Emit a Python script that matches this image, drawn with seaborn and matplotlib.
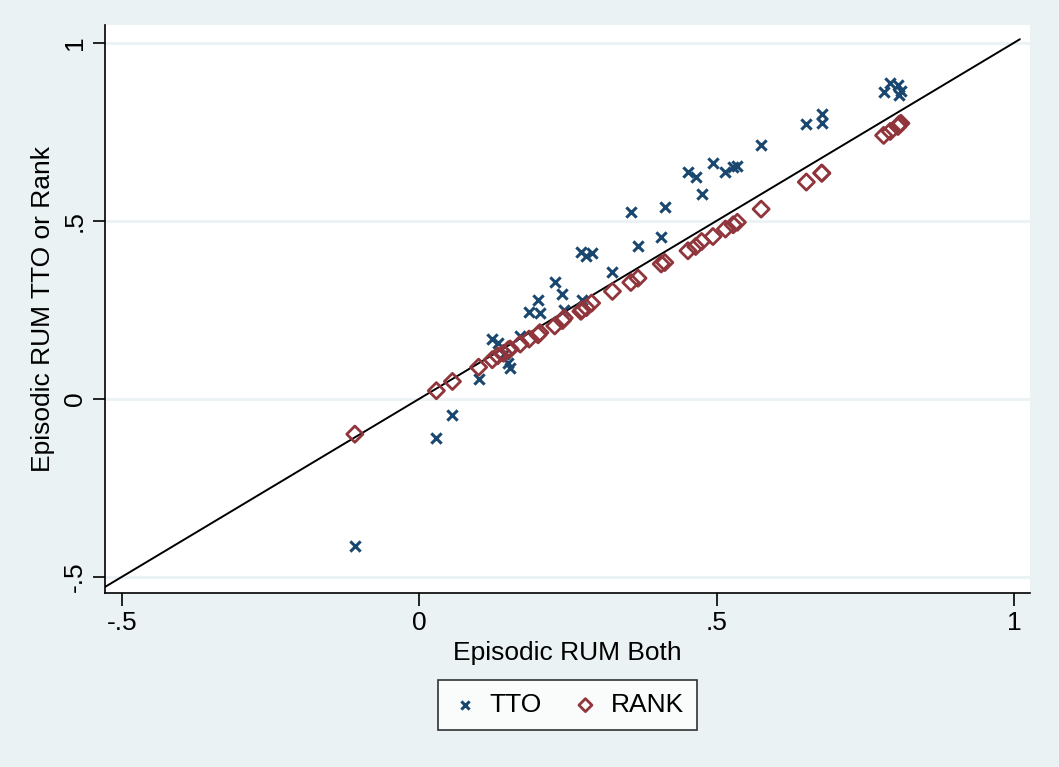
import numpy as np
import pandas as pd
import matplotlib
matplotlib.use("Agg")
import matplotlib.pyplot as plt
import seaborn as sns

# values
episodic_both = [-0.108, 0.029, 0.056, 0.100, 0.123, 0.132, 0.142, 0.150, 0.153,
                 0.170, 0.185, 0.200, 0.203, 0.228, 0.241, 0.244, 0.272, 0.274,
                 0.281, 0.290, 0.325, 0.356, 0.368, 0.407, 0.413, 0.452, 0.465,
                 0.475, 0.494, 0.515, 0.528, 0.535, 0.575, 0.651, 0.677, 0.677,
                 0.781, 0.792, 0.805, 0.807, 0.810]
tto = [-0.413, -0.109, -0.045, 0.055, 0.168, 0.158, 0.126, 0.101, 0.087,
       0.177, 0.244, 0.279, 0.240, 0.327, 0.294, 0.250, 0.413, 0.278,
       0.402, 0.411, 0.355, 0.526, 0.430, 0.454, 0.539, 0.636, 0.623,
       0.576, 0.662, 0.636, 0.651, 0.653, 0.713, 0.772, 0.800, 0.774,
       0.863, 0.888, 0.881, 0.853, 0.864]
rank = [-0.099, 0.023, 0.049, 0.089, 0.110, 0.121, 0.128, 0.138, 0.140,
        0.154, 0.168, 0.180, 0.186, 0.205, 0.220, 0.227, 0.246, 0.250,
        0.256, 0.269, 0.302, 0.327, 0.339, 0.379, 0.383, 0.416, 0.428,
        0.442, 0.456, 0.477, 0.489, 0.496, 0.533, 0.609, 0.634, 0.634,
        0.740, 0.751, 0.765, 0.771, 0.774]
ticks = [-0.5, 0, 0.5, 1]
tick_labels = ["-.5", "0", ".5", "1"]
ref_line = [-0.53, 1.01]

df = pd.DataFrame({"both": episodic_both, "tto": tto, "rank": rank})

sns.set_style("white")
plt.rcParams["font.family"] = ["Liberation Sans", "DejaVu Sans"]
plt.rcParams["text.color"] = "black"
plt.rcParams["axes.labelcolor"] = "black"
plt.rcParams["xtick.color"] = "black"
plt.rcParams["ytick.color"] = "black"

bg = "#EAF2F3"
navy = "#1A476F"
maroon = "#90353B"
fig = plt.figure(figsize=(10.59, 7.67), dpi=100, facecolor=bg)
ax = fig.add_axes([0.0992, 0.2269, 0.8734, 0.7405])
ax.set_facecolor("white")

# 45 degree reference line
ax.plot(ref_line, ref_line, color="black", lw=1.4, zorder=2)

sns.scatterplot(data=df, x="both", y="tto", marker="x", s=55, color=navy,
                linewidth=2.2, label="TTO", ax=ax, zorder=3)
sns.scatterplot(data=df, x="both", y="rank", marker="D", s=68, color=maroon,
                facecolor="none", edgecolor=maroon, linewidth=2.0,
                label="RANK", ax=ax, zorder=4)

ax.set_xlim(-0.528, 1.027)
ax.set_ylim(-0.545, 1.05)
ax.set_xticks(ticks)
ax.set_xticklabels(tick_labels, fontsize=19)
ax.set_yticks(ticks)
ax.set_yticklabels(tick_labels, fontsize=19, rotation=90, va="center")
ax.tick_params(axis="both", direction="out", length=9, width=1.2, color="black",
               labelcolor="black", bottom=True, left=True, pad=4)
ax.grid(axis="y", color=bg, lw=2)
ax.set_axisbelow(True)

for side in ["top", "right"]:
    ax.spines[side].set_visible(False)
for side in ["left", "bottom"]:
    ax.spines[side].set_color("black")
    ax.spines[side].set_linewidth(1.2)

ax.set_xlabel("Episodic RUM Both", fontsize=19, labelpad=4, color="black")
ax.set_ylabel("Episodic RUM TTO or Rank", fontsize=19, labelpad=6, color="black")

leg = ax.legend(loc="upper center", bbox_to_anchor=(0.5, -0.153), ncol=2,
                frameon=True, fancybox=False, edgecolor="black", fontsize=19,
                handletextpad=0.45, columnspacing=1.15, borderpad=0.5,
                borderaxespad=0, markerscale=0.8, handlelength=1.0)
leg.get_frame().set_linewidth(1.2)
for t in leg.get_texts():
    t.set_color("black")

fig.savefig("out.png", dpi=100, facecolor=bg)
